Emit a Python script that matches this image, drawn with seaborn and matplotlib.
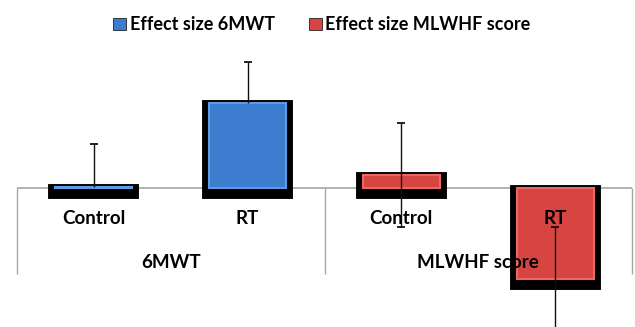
import matplotlib
matplotlib.use("Agg")
import matplotlib.pyplot as plt
import matplotlib.patheffects as pe
from matplotlib.patches import Patch
import pandas as pd
import seaborn as sns

# data (effect sizes, no visible y axis)
groups = ["6MWT", "6MWT", "MLWHF score", "MLWHF score"]
arms = ["Control", "RT", "Control", "RT"]
series = ["Effect size 6MWT", "Effect size 6MWT",
          "Effect size MLWHF score", "Effect size MLWHF score"]
effect = [0.01, 0.85, 0.13, -0.91]
err_lo = [0.0, 0.0, 0.52, 0.52]
err_hi = [0.43, 0.41, 0.52, 0.52]

colors = {"Effect size 6MWT": "#3d7dd0", "Effect size MLWHF score": "#d64541"}
bevel = {"Effect size 6MWT": "#5f9be2", "Effect size MLWHF score": "#ec6763"}

df = pd.DataFrame({
    "slot": [f"{g} {a}" for g, a in zip(groups, arms)],
    "effect": effect,
    "series": series,
})

sns.set_style("white")
plt.rcParams["font.family"] = ["Lato", "DejaVu Sans"]
plt.rcParams["text.color"] = "black"

fig = plt.figure(figsize=(6.35, 3.27), dpi=100)
ax = fig.add_axes([17 / 635, 0, 615 / 635, 287 / 327])

sns.barplot(data=df, x="slot", y="effect", hue="series", palette=colors,
            saturation=1, dodge=False, width=0.5, ax=ax, legend=False, zorder=3)

# Excel-like thick black drop shadow under each bar, light bevel edge
for p, s in zip(ax.patches, series):
    p.set_edgecolor(bevel[s])
    p.set_linewidth(1.5)
    p.set_path_effects([
        pe.Stroke(offset=(0, -2.9), linewidth=10, foreground="black", joinstyle="miter"),
        pe.Normal(),
    ])

# error bars: 6MWT plus only, MLWHF both ways
x = list(range(4))
eb = ax.errorbar(x[:2], effect[:2], yerr=[err_lo[:2], err_hi[:2]], fmt="none",
                 ecolor="#111111", elinewidth=1, capsize=3, capthick=1.3, zorder=4)
eb[1][0].set_visible(False)
ax.errorbar(x[2:], effect[2:], yerr=[err_lo[2:], err_hi[2:]], fmt="none",
            ecolor="#111111", elinewidth=1, capsize=3, capthick=1.3, zorder=4)

# category axis
ax.axhline(0, color="#a6a6a6", lw=1.2, zorder=1)
ax.vlines([-0.5, 1.5, 3.5], -0.86, 0, colors="#a6a6a6", lw=1, clip_on=False, zorder=1)
for i, a in enumerate(arms):
    ax.text(i, -0.30, a, ha="center", va="center", fontsize=13.5,
            fontweight="bold", color="black", zorder=5)
for i, g in enumerate(["6MWT", "MLWHF score"]):
    ax.text(2 * i + 0.5, -0.74, g, ha="center", va="center", fontsize=13.5,
            fontweight="bold", color="black", zorder=5)

ax.set_xlim(-0.5, 3.5)
ax.set_ylim(-1.39, 1.48)
ax.axis("off")

handles = [Patch(facecolor=colors[k], edgecolor="#222222", lw=0.6) for k in colors]
fig.legend(handles, list(colors.keys()), loc="upper center",
           bbox_to_anchor=(0.507, 1.0), ncol=2, frameon=False,
           prop={"weight": "bold", "size": 13}, handlelength=0.7,
           handleheight=0.7, handletextpad=0.2, columnspacing=1.9,
           labelcolor="black")

fig.savefig("out.png", dpi=100)
